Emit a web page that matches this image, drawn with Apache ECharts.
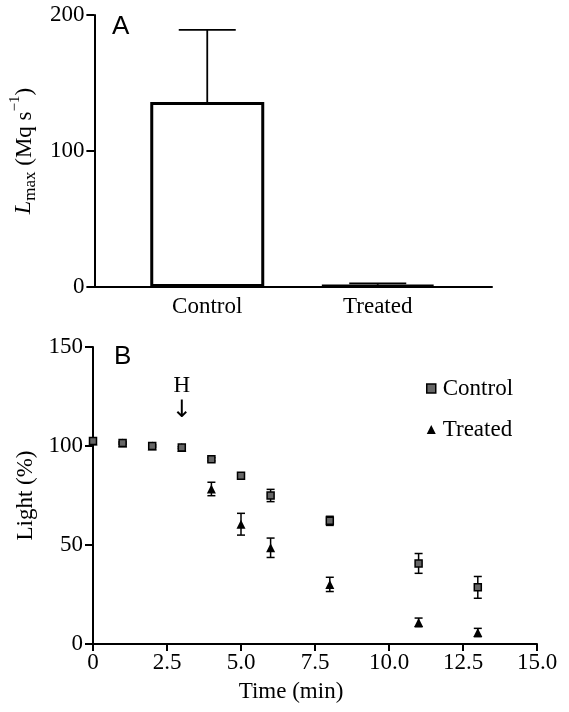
<!DOCTYPE html>
<html>
<head>
<meta charset="utf-8">
<script src="https://cdn.jsdelivr.net/npm/echarts@6/dist/echarts.min.js"></script>
<style>
html,body{margin:0;padding:0;background:#fff;}
#chart{width:569px;height:712px;}
</style>
</head>
<body>
<div id="chart"></div>
<script>
// Panel A data
const barCategories = ['Control', 'Treated'];
const barValues = [136, 1.6];
const barErrors = [53, 1.0];
const barTicks = [0, 100, 200];

// Panel B data
const times = [0, 1, 2, 3, 4, 5, 6, 8, 11, 13];
const controlMean = [102.5, 101.5, 100, 99.2, 93.3, 85, 75, 62.2, 40.7, 28.6];
const controlErr = [0.5, 0.5, 0.5, 0.5, 0.8, 1.5, 3.1, 2.3, 5, 5.5];
const treatedMean = [102.5, 101.5, 100, 99.2, 78.3, 60.5, 48.6, 30.1, 10.9, 5.8];
const treatedErr = [0.5, 0.5, 0.5, 0.5, 3.4, 5.5, 4.9, 3.6, 2.2, 2.1];
const xTicksB = [0, 2.5, 5, 7.5, 10, 12.5, 15];
const yTicksB = [0, 50, 100, 150];

const SERIF = '"Liberation Serif", "Times New Roman", serif';
const SANS = '"Liberation Sans", Arial, sans-serif';
const labelStyle = { fontFamily: SERIF, fontSize: 23, color: '#000' };

function errRender(capHalf, lw) {
  return function (params, api) {
    const x = api.value(0), m = api.value(1), e = api.value(2);
    const top = api.coord([x, m + e]);
    const bot = api.coord([x, m - e]);
    return {
      type: 'group',
      children: [
        { type: 'line', shape: { x1: top[0], y1: top[1], x2: bot[0], y2: bot[1] }, style: { stroke: '#000', lineWidth: lw } },
        { type: 'line', shape: { x1: top[0] - capHalf, y1: top[1], x2: top[0] + capHalf, y2: top[1] }, style: { stroke: '#000', lineWidth: lw } },
        { type: 'line', shape: { x1: bot[0] - capHalf, y1: bot[1], x2: bot[0] + capHalf, y2: bot[1] }, style: { stroke: '#000', lineWidth: lw } }
      ]
    };
  };
}

function barErrRender(capHalf, lw) {
  return function (params, api) {
    const i = api.value(0), m = api.value(1), e = api.value(2);
    const top = api.coord([i, m + e]);
    const base = api.coord([i, m]);
    return {
      type: 'group',
      children: [
        { type: 'line', shape: { x1: top[0], y1: top[1], x2: base[0], y2: base[1] }, style: { stroke: '#000', lineWidth: lw } },
        { type: 'line', shape: { x1: top[0] - capHalf, y1: top[1], x2: top[0] + capHalf, y2: top[1] }, style: { stroke: '#000', lineWidth: lw } }
      ]
    };
  };
}

const chart = echarts.init(document.getElementById('chart'), null, { renderer: 'canvas' });

const option = {
  animation: false,
  backgroundColor: '#fff',
  graphic: [
    { type: 'text', left: 112, top: 14, style: { text: 'A', font: '26px ' + SANS, fill: '#000' } },
    { type: 'text', left: 114, top: 344, style: { text: 'B', font: '26px ' + SANS, fill: '#000' } }
  ],
  grid: [
    { left: 122, right: 106, top: 15, bottom: 425 },   // 0: bars
    { left: 93, right: 77, top: 15, bottom: 425 },     // 1: A axes
    { left: 93, right: 32, top: 347, bottom: 68 }      // 2: B
  ],
  xAxis: [
    {
      gridIndex: 0, type: 'category', data: barCategories,
      axisLine: { show: false }, axisTick: { show: false },
      axisLabel: Object.assign({ margin: 8 }, labelStyle)
    },
    {
      gridIndex: 1, type: 'value', min: 0, max: 1,
      axisLine: { show: true, lineStyle: { color: '#000', width: 2 } },
      axisTick: { show: false }, axisLabel: { show: false }, splitLine: { show: false }
    },
    {
      gridIndex: 2, type: 'value', min: 0, max: 15, interval: 2.5,
      axisLine: { show: true, onZero: false, lineStyle: { color: '#000', width: 2 } },
      axisTick: { show: true, length: 7, lineStyle: { color: '#000', width: 2 } },
      axisLabel: Object.assign({ margin: 7, formatter: v => v === 0 ? '0' : v.toFixed(1) }, labelStyle),
      splitLine: { show: false },
      name: 'Time (min)', nameLocation: 'middle', nameGap: 36,
      nameTextStyle: Object.assign({ padding: [0, 48, 0, 0] }, labelStyle)
    }
  ],
  yAxis: [
    {
      gridIndex: 0, type: 'value', min: 0, max: 200, interval: 100, show: false
    },
    {
      gridIndex: 1, type: 'value', min: 0, max: 200, interval: 100,
      axisLine: { show: true, onZero: false, lineStyle: { color: '#000', width: 2 } },
      axisTick: { show: true, length: 8, lineStyle: { color: '#000', width: 2 } },
      axisLabel: Object.assign({ margin: 10 }, labelStyle),
      splitLine: { show: false },
      name: '{i|L}{s|max}{n| (Mq s}{sup|−1}{n|)}',
      nameLocation: 'middle', nameGap: 50,
      nameTextStyle: {
        rich: {
          i: { fontFamily: SERIF, fontSize: 24, fontStyle: 'italic', color: '#000', lineHeight: 28, verticalAlign: 'bottom' },
          s: { fontFamily: SERIF, fontSize: 17, color: '#000', lineHeight: 28, verticalAlign: 'bottom', padding: [0, 0, -3, 0] },
          n: { fontFamily: SERIF, fontSize: 23, color: '#000', lineHeight: 28, verticalAlign: 'bottom' },
          sup: { fontFamily: SERIF, fontSize: 15, color: '#000', lineHeight: 28, verticalAlign: 'top' }
        }
      }
    },
    {
      gridIndex: 2, type: 'value', min: 0, max: 150, interval: 50,
      axisLine: { show: true, onZero: false, lineStyle: { color: '#000', width: 2 } },
      axisTick: { show: true, length: 8, lineStyle: { color: '#000', width: 2 } },
      axisLabel: Object.assign({ margin: 10 }, labelStyle),
      splitLine: { show: false },
      name: 'Light (%)', nameLocation: 'middle', nameGap: 52,
      nameTextStyle: labelStyle
    }
  ],
  legend: {
    orient: 'vertical', left: 421, top: 372, itemGap: 18,
    itemWidth: 9, itemHeight: 9,
    textStyle: Object.assign({ padding: [0, 0, 0, 2] }, labelStyle),
    data: [
      { name: 'Control', icon: 'rect', itemStyle: { color: '#666', borderColor: '#000', borderWidth: 1.5 } },
      { name: 'Treated', icon: 'triangle', itemStyle: { color: '#000' } }
    ]
  },
  series: [
    {
      type: 'bar', xAxisIndex: 0, yAxisIndex: 0, barWidth: 114,
      data: barValues,
      itemStyle: { color: '#fff', borderColor: '#000', borderWidth: 3 },
      z: 2
    },
    {
      type: 'custom', xAxisIndex: 0, yAxisIndex: 0,
      renderItem: barErrRender(28.5, 1.8),
      data: barValues.map((v, i) => [i, v, barErrors[i]]),
      z: 1
    },
    {
      name: 'TreatedErr', type: 'custom', xAxisIndex: 2, yAxisIndex: 2,
      renderItem: errRender(4, 1.5),
      data: times.map((t, i) => [t, treatedMean[i], treatedErr[i]]),
      z: 3
    },
    {
      name: 'Treated', type: 'scatter', xAxisIndex: 2, yAxisIndex: 2,
      symbol: 'triangle', symbolSize: [9, 9],
      itemStyle: { color: '#000', opacity: 1 },
      data: times.map((t, i) => [t, treatedMean[i]]),
      z: 4
    },
    {
      name: 'ControlErr', type: 'custom', xAxisIndex: 2, yAxisIndex: 2,
      renderItem: errRender(4, 1.5),
      data: times.map((t, i) => [t, controlMean[i], controlErr[i]]),
      z: 5
    },
    {
      name: 'Control', type: 'scatter', xAxisIndex: 2, yAxisIndex: 2,
      symbol: 'rect', symbolSize: 7,
      itemStyle: { color: '#666', borderColor: '#000', borderWidth: 1.5, opacity: 1 },
      data: times.map((t, i) => [t, controlMean[i]]),
      z: 6,
      markPoint: {
        symbol: 'rect', symbolSize: 1,
        itemStyle: { color: 'rgba(0,0,0,0)', borderWidth: 0 },
        data: [{ coord: [3, 124], value: 'H' }],
        label: {
          show: true, formatter: '{h|H}\n{a|↓}', position: 'inside',
          rich: {
            h: { fontFamily: SERIF, fontSize: 23, lineHeight: 24, color: '#000', align: 'center' },
            a: { fontFamily: '"DejaVu Sans", sans-serif', fontSize: 24, lineHeight: 26, color: '#000', align: 'center' }
          }
        }
      }
    }
  ]
};
chart.setOption(option);
</script>
</body>
</html>
